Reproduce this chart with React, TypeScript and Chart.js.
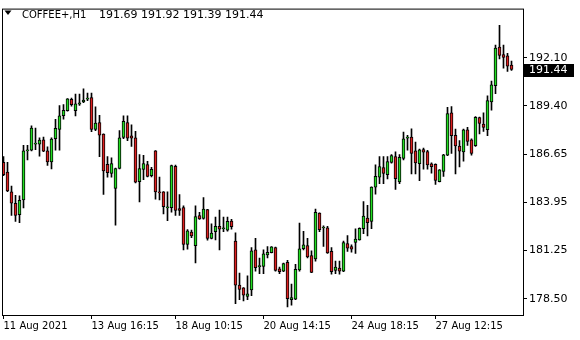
import React, { useEffect, useRef } from "react";
import { Chart, registerables } from "chart.js";

Chart.register(...registerables);

const symbolTitle = "COFFEE+,H1";

const opens = [
  186.20, 185.65, 184.54, 183.88, 183.25, 184.08, 186.85, 186.88, 187.23, 187.23,
  187.47, 186.85, 186.22, 187.54, 188.06, 188.84, 189.11, 189.76, 189.11, 189.48,
  189.61, 189.77, 189.85, 188.06, 188.45, 187.79, 186.09, 185.58, 184.73, 185.85,
  187.60, 188.45, 187.69, 187.58, 185.11, 185.80, 186.07, 185.44, 186.85, 184.54,
  184.53, 183.63, 183.64, 185.98, 183.59, 183.64, 181.57, 182.26, 181.49, 183.20,
  183.03, 183.53, 181.91, 182.28, 182.59, 182.45, 182.37, 182.88, 181.76, 179.27,
  179.11, 178.63, 179.00, 181.26, 180.31, 180.32, 180.97, 181.10, 181.39, 180.18,
  180.05, 180.56, 178.45, 178.48, 180.12, 181.32, 181.50, 180.93, 180.74, 183.33,
  182.49, 182.50, 181.17, 180.10, 180.23, 180.05, 181.61, 181.45, 181.68, 181.82,
  182.45, 183.05, 182.87, 184.80, 185.36, 185.91, 185.50, 186.20, 186.52, 185.10,
  186.42, 187.57, 187.62, 186.85, 186.12, 186.92, 186.81, 186.11, 186.09, 185.11,
  185.69, 186.60, 189.00, 187.73, 187.12, 186.79, 188.03, 187.47, 187.14, 188.73,
  188.36, 188.04, 189.61, 190.53, 192.71, 192.28, 192.21, 191.69,
];

const highs = [
  186.52, 186.20, 184.86, 184.34, 184.31, 187.16, 187.16, 188.26, 188.14, 187.58,
  187.62, 187.07, 187.58, 188.63, 189.41, 189.46, 189.80, 189.83, 190.05, 190.05,
  190.35, 190.11, 190.11, 189.34, 188.85, 187.81, 186.52, 186.46, 185.87, 187.99,
  188.82, 188.82, 188.32, 187.95, 186.64, 186.60, 186.26, 185.92, 186.87, 185.37,
  184.55, 184.54, 186.04, 186.04, 184.38, 183.75, 182.40, 182.37, 183.75, 183.38,
  184.21, 183.55, 182.73, 183.11, 183.51, 183.11, 183.11, 182.98, 182.22, 179.95,
  179.13, 179.79, 181.39, 181.91, 180.80, 181.26, 181.45, 181.45, 181.41, 180.29,
  180.51, 180.67, 179.33, 180.44, 182.77, 182.31, 181.91, 181.21, 183.56, 183.35,
  182.61, 182.59, 181.39, 180.62, 180.62, 181.76, 182.06, 181.54, 182.44, 182.50,
  183.99, 183.77, 184.82, 186.06, 186.52, 186.52, 186.52, 186.64, 186.79, 186.64,
  187.91, 187.72, 188.09, 187.34, 186.95, 187.00, 186.88, 186.17, 186.11, 185.79,
  186.65, 189.31, 189.35, 188.08, 187.43, 188.08, 188.17, 187.53, 188.78, 188.76,
  189.00, 189.96, 190.79, 192.82, 193.94, 192.82, 192.35, 191.92,
];

const lows = [
  185.44, 184.54, 183.20, 182.87, 182.79, 183.62, 186.33, 186.85, 186.92, 186.55,
  186.80, 186.02, 185.83, 186.88, 186.88, 188.63, 189.09, 189.37, 188.82, 189.42,
  189.57, 189.68, 187.93, 187.99, 186.52, 184.39, 185.36, 185.36, 182.65, 185.83,
  187.53, 187.43, 187.10, 185.04, 183.97, 185.22, 185.37, 185.37, 184.12, 184.08,
  183.29, 182.90, 183.38, 183.20, 183.20, 181.26, 181.30, 181.94, 180.52, 182.98,
  182.99, 181.80, 181.88, 181.82, 181.26, 182.28, 182.32, 182.43, 178.22, 178.45,
  178.37, 178.45, 178.67, 180.06, 179.92, 179.92, 180.80, 181.08, 180.06, 179.92,
  180.03, 178.04, 178.13, 178.45, 180.06, 181.26, 180.80, 179.97, 180.62, 182.28,
  181.45, 181.06, 179.88, 179.92, 179.88, 180.03, 181.17, 181.13, 181.06, 181.80,
  182.17, 182.05, 182.46, 184.40, 184.99, 185.00, 185.27, 186.15, 184.67, 185.00,
  186.34, 186.88, 185.55, 185.55, 185.17, 185.81, 185.81, 185.59, 184.95, 185.09,
  185.41, 186.58, 186.70, 185.55, 185.94, 186.27, 187.16, 186.60, 187.10, 187.80,
  187.95, 187.71, 189.15, 190.07, 192.04, 191.52, 191.34, 191.39,
];

const closes = [
  185.50, 184.58, 183.90, 183.20, 184.06, 186.85, 186.87, 188.14, 187.26, 187.46,
  186.83, 186.22, 187.51, 188.12, 188.82, 189.13, 189.78, 189.45, 189.50, 189.56,
  189.72, 189.79, 188.06, 188.41, 187.73, 185.72, 185.61, 186.13, 185.85, 187.58,
  188.51, 187.57, 187.57, 185.08, 185.85, 186.13, 185.41, 185.81, 184.53, 184.47,
  183.70, 183.65, 186.02, 183.48, 183.48, 181.57, 182.33, 182.04, 183.14, 183.01,
  183.56, 181.91, 182.20, 182.59, 182.43, 182.47, 182.87, 182.57, 179.27, 179.03,
  178.70, 178.78, 181.21, 180.25, 180.33, 181.04, 181.12, 181.43, 180.10, 180.03,
  180.49, 178.50, 178.57, 180.16, 181.32, 181.54, 180.86, 179.99, 183.38, 182.40,
  182.51, 181.08, 180.03, 180.29, 180.06, 181.67, 181.35, 181.30, 181.87, 182.48,
  183.16, 182.79, 184.80, 185.41, 185.96, 185.58, 186.24, 186.58, 185.28, 186.48,
  187.53, 187.59, 186.71, 186.16, 186.91, 186.77, 186.06, 185.95, 185.18, 185.77,
  186.63, 188.95, 187.71, 187.12, 186.83, 188.03, 187.38, 186.71, 188.74, 188.40,
  188.17, 189.68, 190.57, 192.65, 192.24, 192.13, 191.63, 191.44,
];

const xTickIndex = [0, 22, 43, 65, 87, 108];
const xTickLabels = [
  "11 Aug 2021",
  "13 Aug 16:15",
  "18 Aug 10:15",
  "20 Aug 14:15",
  "24 Aug 18:15",
  "27 Aug 12:15",
];
const yTickValues = [178.5, 181.25, 183.95, 186.65, 189.4, 192.1];

const BULL = "#22dd22";
const BEAR = "#dd2020";
const FONT = "DejaVu Sans";

export default function App() {
  const ref = useRef<HTMLCanvasElement>(null);

  useEffect(() => {
    const canvas = ref.current;
    if (!canvas) return;
    const idx = closes.map((_, i) => i);
    const last = closes.length - 1;

    const overlay = {
      id: "mtOverlay",
      afterDraw(chart: any) {
        const ctx = chart.ctx as CanvasRenderingContext2D;
        const a = chart.chartArea;
        ctx.save();
        // frame
        ctx.strokeStyle = "#000";
        ctx.lineWidth = 1;
        ctx.strokeRect(a.left + 0.5, a.top + 0.5, a.right - a.left, a.bottom - a.top);
        // title triangle
        ctx.fillStyle = "#000";
        ctx.beginPath();
        ctx.moveTo(4.5, 10.5);
        ctx.lineTo(11.5, 10.5);
        ctx.lineTo(8, 15);
        ctx.closePath();
        ctx.fill();
        // title text
        ctx.textBaseline = "alphabetic";
        ctx.textAlign = "left";
        ctx.font = `10px "${FONT}"`;
        ctx.fillText(symbolTitle, 22, 18);
        ctx.font = `11px "${FONT}"`;
        const ohlc = [opens[last], highs[last], lows[last], closes[last]]
          .map((v) => v.toFixed(2))
          .join(" ");
        ctx.fillText(ohlc, 99, 18);
        // current price box
        const yPix = chart.scales.y.getPixelForValue(closes[last]);
        ctx.fillStyle = "#000";
        ctx.fillRect(a.right + 1, Math.round(yPix) - 6, 50, 13);
        ctx.fillStyle = "#fff";
        ctx.textBaseline = "middle";
        ctx.fillText(closes[last].toFixed(2), a.right + 6, Math.round(yPix) + 0.5);
        ctx.restore();
      },
    };

    const chart = new Chart(canvas, {
      type: "bar",
      data: {
        datasets: [
          {
            label: "body",
            data: idx.map((i) => ({ x: i, y: [opens[i], closes[i]] })) as any,
            backgroundColor: idx.map((i) => (closes[i] >= opens[i] ? BULL : BEAR)),
            borderColor: "#000",
            borderWidth: 1,
            borderSkipped: false,
            grouped: false,
            barPercentage: 1,
            categoryPercentage: 1,
            maxBarThickness: 3,
            minBarLength: 1,
            order: 0,
          } as any,
          {
            label: "wick",
            data: idx.map((i) => ({ x: i, y: [lows[i], highs[i]] })) as any,
            backgroundColor: "#000",
            borderWidth: 0,
            grouped: false,
            barPercentage: 1,
            categoryPercentage: 1,
            maxBarThickness: 1,
            order: 1,
          } as any,
        ],
      },
      options: {
        animation: false,
        responsive: false,
        devicePixelRatio: 1,
        events: [],
        layout: { padding: { left: 2, top: 2, right: 0, bottom: 0 } },
        plugins: {
          legend: { display: false },
          tooltip: { enabled: false },
          title: { display: false },
        },
        scales: {
          x: {
            type: "linear",
            offset: false,
            min: -0.375,
            max: 129.875,
            afterBuildTicks: (s: any) => {
              s.ticks = xTickIndex.map((v) => ({ value: v }));
            },
            afterFit: (s: any) => {
              s.height = 25;
            },
            ticks: {
              autoSkip: false,
              maxRotation: 0,
              minRotation: 0,
              align: "start",
              padding: 1,
              color: "#000",
              font: { family: FONT, size: 10 },
              callback: (v: any) => {
                const k = xTickIndex.indexOf(Number(v));
                return k >= 0 ? xTickLabels[k] : "";
              },
            },
            grid: {
              offset: false,
              drawOnChartArea: false,
              drawTicks: true,
              tickLength: 4,
              color: "#000",
            },
            border: { display: false },
          },
          y: {
            type: "linear",
            position: "right",
            min: 177.58,
            max: 194.88,
            afterBuildTicks: (s: any) => {
              s.ticks = yTickValues.map((v) => ({ value: v }));
            },
            afterFit: (s: any) => {
              s.width = 57;
            },
            ticks: {
              padding: 2,
              crossAlign: "near",
              color: "#000",
              font: { family: FONT, size: 11 },
              callback: (v: any) => Number(v).toFixed(2),
            },
            grid: {
              drawOnChartArea: false,
              drawTicks: true,
              tickLength: 4,
              color: "#000",
            },
            border: { display: false },
          },
        },
      } as any,
      plugins: [overlay],
    });

    return () => chart.destroy();
  }, []);

  return (
    <div
      style={{
        position: "fixed",
        left: 0,
        top: 0,
        width: 580,
        height: 340,
        background: "#fff",
      }}
    >
      <canvas
        ref={ref}
        width={580}
        height={340}
        style={{ display: "block", width: 580, height: 340 }}
      />
    </div>
  );
}
